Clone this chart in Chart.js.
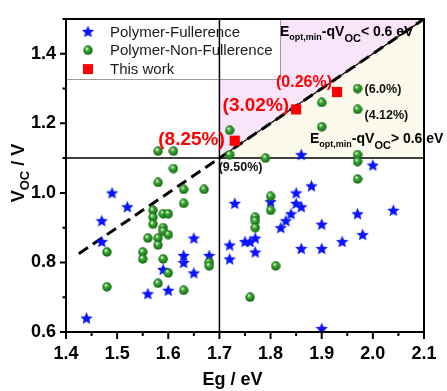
<!DOCTYPE html>
<html>
<head>
<meta charset="utf-8">
<script src="https://cdn.jsdelivr.net/npm/chart.js@4.4.1/dist/chart.umd.min.js"></script>
<style>
html, body { margin: 0; padding: 0; background: #fff; }
canvas { display: block; }
</style>
</head>
<body>
<canvas id="voc_chart" width="447" height="391"></canvas>
<script>
// values
const fullereneEg  = [1.44, 1.47, 1.47, 1.49, 1.52, 1.56, 1.59, 1.60, 1.63, 1.63, 1.65, 1.65, 1.68, 1.72, 1.72, 1.73, 1.75, 1.76, 1.77, 1.77, 1.80, 1.82, 1.83, 1.84, 1.85, 1.85, 1.86, 1.86, 1.86, 1.88, 1.90, 1.90, 1.90, 1.94, 1.97, 1.98, 2.00, 2.04]
const fullereneVoc = [0.64, 0.92, 0.86, 1.00, 0.96, 0.71, 0.78, 0.72, 0.82, 0.80, 0.87, 0.77, 0.82, 0.85, 0.81, 0.97, 0.86, 0.86, 0.87, 0.83, 0.975, 0.90, 0.92, 0.94, 1.00, 0.97, 0.96, 0.84, 1.11, 1.02, 0.91, 0.84, 0.61, 0.86, 0.94, 0.88, 1.08, 0.95]

const nonFullereneEg  = [1.48, 1.48, 1.55, 1.55, 1.56, 1.57, 1.57, 1.57, 1.58, 1.58, 1.58, 1.58, 1.58, 1.59, 1.59, 1.59, 1.59, 1.60, 1.60, 1.60, 1.61, 1.61, 1.63, 1.63, 1.63, 1.67, 1.68, 1.68, 1.72, 1.72, 1.76, 1.77, 1.77, 1.77, 1.79, 1.80, 1.80, 1.81, 1.90, 1.90, 1.97, 1.97, 1.97, 1.97, 1.97]
const nonFullereneVoc = [0.83, 0.73, 0.83, 0.81, 0.87, 0.95, 0.93, 0.91, 1.12, 1.03, 0.87, 0.85, 0.74, 0.94, 0.90, 0.89, 0.81, 0.94, 0.88, 0.77, 1.12, 1.07, 1.01, 0.97, 0.72, 1.01, 0.80, 0.79, 1.18, 1.11, 0.70, 0.93, 0.92, 0.90, 1.10, 0.99, 0.95, 0.79, 1.26, 1.19, 1.30, 1.24, 1.11, 1.09, 1.04]

const thisWorkEg  = [1.73, 1.85, 1.93]
const thisWorkVoc = [1.15, 1.24, 1.29]
const thisWorkPce = ['(8.25%)', '(3.02%)', '(0.26%)']

// PCE notes on a few literature points: [Eg, Voc, text]
const notedEg  = [1.72, 1.97, 1.97]
const notedVoc = [1.11, 1.30, 1.24]
const notedPce = ['(9.50%)', '(6.0%)', '(4.12%)']

const limitEg  = 1.7
const limitVoc = 1.1
const lossEg   = [1.425, 2.1]   // Eopt,min - qVoc = 0.6 eV
const lossVoc  = [0.825, 1.5]

const seriesNames = ['Polymer-Fullerence', 'Polymer-Non-Fullerence', 'This work']

const FONT = 'Arial, "Liberation Sans", sans-serif'

function pairs(xs, ys) { return xs.map((v, i) => ({x: v, y: ys[i]})) }

function makeStar(size, color)
{
    const c = document.createElement('canvas')
    c.width = c.height = size
    const g = c.getContext('2d')
    const r = size / 2, ri = r * 0.46
    g.beginPath()
    for (let i = 0; i < 10; i++) {
        const a = -Math.PI / 2 + i * Math.PI / 5
        const rr = i % 2 ? ri : r
        g.lineTo(r + rr * Math.cos(a), r + 0.6 + rr * Math.sin(a))
    }
    g.closePath()
    g.fillStyle = color
    g.fill()
    return c
}

function makeBall(size)
{
    const c = document.createElement('canvas')
    c.width = c.height = size
    const g = c.getContext('2d')
    const r = size / 2
    const grad = g.createRadialGradient(r * 0.75, r * 0.65, 0.5, r, r, r)
    grad.addColorStop(0, '#d8f5d0')
    grad.addColorStop(0.3, '#44aa3c')
    grad.addColorStop(0.75, '#1b7d18')
    grad.addColorStop(1, '#0e5a0c')
    g.beginPath()
    g.arc(r, r, r - 0.3, 0, Math.PI * 2)
    g.fillStyle = grad
    g.fill()
    return c
}

const starImg = makeStar(13, '#0a14ff')
const ballImg = makeBall(10)

function drawRich(ctx, x, y, parts, align)
{
    let w = 0
    parts.forEach(p => { ctx.font = p.f + ' ' + FONT; w += ctx.measureText(p.t).width })
    let cx = align === 'center' ? x - w / 2 : x
    ctx.textAlign = 'left'
    ctx.textBaseline = 'alphabetic'
    parts.forEach(p => {
        ctx.font = p.f + ' ' + FONT
        ctx.fillText(p.t, cx, y + (p.dy || 0))
        cx += ctx.measureText(p.t).width
    })
}

const decor = {
    id: 'decor',
    beforeDatasetsDraw(chart)
    {
        const {ctx, scales: {x, y}} = chart
        const poly = (eg, voc, color) => {
            ctx.beginPath()
            eg.forEach((v, i) => ctx.lineTo(x.getPixelForValue(v), y.getPixelForValue(voc[i])))
            ctx.closePath()
            ctx.fillStyle = color
            ctx.fill()
        }
        ctx.save()
        poly([limitEg, limitEg, lossEg[1]], [limitVoc, lossVoc[1], lossVoc[1]], '#f9e4f9')
        poly([limitEg, lossEg[1], lossEg[1]], [limitVoc, lossVoc[1], limitVoc], '#fbfaec')

        // legend box
        const lx = x.left, ly = y.top, lw = 214, lh = 60
        ctx.fillStyle = '#fff'
        ctx.fillRect(lx, ly, lw, lh)
        ctx.strokeStyle = '#9a9a9a'
        ctx.lineWidth = 1
        ctx.strokeRect(lx + 0.5, ly + 0.5, lw, lh)
        const marks = [starImg, ballImg, null]
        seriesNames.forEach((name, i) => {
            const my = ly + 12.5 + i * 18.8
            const mx = lx + 22
            if (marks[i]) ctx.drawImage(marks[i], mx - marks[i].width / 2, my - marks[i].height / 2)
            else { ctx.fillStyle = '#ff0000'; ctx.fillRect(mx - 5, my - 5, 10, 10) }
            ctx.fillStyle = '#1a1a1a'
            ctx.font = '15px ' + FONT
            ctx.textAlign = 'left'
            ctx.textBaseline = 'middle'
            ctx.fillText(name, lx + 44, my + 1)
        })
        ctx.restore()
    },
    afterDatasetsDraw(chart)
    {
        const {ctx, scales: {x, y}} = chart
        ctx.save()
        ctx.strokeStyle = '#000'
        ctx.lineWidth = 2
        ctx.strokeRect(x.left, y.top, x.right - x.left, y.bottom - y.top)

        // tick marks, major and minor
        ctx.beginPath()
        x.ticks.forEach(t => {
            const px = x.getPixelForValue(t.value)
            const len = Math.round(t.value * 100) % 10 === 0 ? 7 : 4
            ctx.moveTo(px, y.bottom)
            ctx.lineTo(px, y.bottom + len)
        })
        y.ticks.forEach(t => {
            const py = y.getPixelForValue(t.value)
            const len = Math.round(t.value * 10) % 2 === 0 ? 6 : 3.5
            ctx.moveTo(x.left, py)
            ctx.lineTo(x.left - len, py)
        })
        ctx.stroke()

        // PCE labels for this work
        const redStyle = [
            {dx: -10, dy: -1, size: 19},
            {dx: -7, dy: -4, size: 19},
            {dx: -5, dy: -9, size: 16}
        ]
        ctx.fillStyle = '#ff0000'
        ctx.textAlign = 'right'
        ctx.textBaseline = 'middle'
        thisWorkPce.forEach((t, i) => {
            const s = redStyle[i]
            ctx.font = 'bold ' + s.size + 'px ' + FONT
            ctx.fillText(t, x.getPixelForValue(thisWorkEg[i]) + s.dx, y.getPixelForValue(thisWorkVoc[i]) + s.dy)
        })

        const noteStyle = [
            {dx: -11, dy: 13},
            {dx: 7, dy: 1},
            {dx: 7, dy: 6}
        ]
        ctx.fillStyle = '#111'
        ctx.textAlign = 'left'
        ctx.font = 'bold 12.5px ' + FONT
        notedPce.forEach((t, i) => {
            const s = noteStyle[i]
            ctx.fillText(t, x.getPixelForValue(notedEg[i]) + s.dx, y.getPixelForValue(notedVoc[i]) + s.dy)
        })

        // region captions
        ctx.fillStyle = '#000'
        const cap = sign => [
            {t: 'E', f: 'bold 14px'},
            {t: 'opt,min', f: 'bold 9px', dy: 4},
            {t: '-qV', f: 'bold 14px'},
            {t: 'OC', f: 'bold 11px', dy: 6},
            {t: sign + ' 0.6 eV', f: 'bold 14px'}
        ]
        drawRich(ctx, 280, 36, cap('<'))
        drawRich(ctx, 310, 143, cap('>'))

        // axis titles
        drawRich(ctx, 232.5, 385, [{t: 'Eg / eV', f: 'bold 18px'}], 'center')
        ctx.translate(24, 173)
        ctx.rotate(-Math.PI / 2)
        drawRich(ctx, 0, 0, [
            {t: 'V', f: 'bold 18px'},
            {t: 'OC', f: 'bold 13px', dy: 5},
            {t: ' / V', f: 'bold 18px'}
        ], 'center')
        ctx.restore()
    }
}

function lineSet(xs, ys, width, dash)
{
    return {
        data: pairs(xs, ys),
        showLine: true,
        pointRadius: 0,
        borderColor: '#000',
        borderWidth: width,
        borderDash: dash || [],
        fill: false
    }
}

function init()
{
    const ctx = document.getElementById('voc_chart').getContext('2d')

    new Chart(ctx, {
        type: 'scatter',
        data: {
            datasets: [
                {
                    label: seriesNames[2],
                    data: pairs(thisWorkEg, thisWorkVoc),
                    pointStyle: 'rect',
                    pointRadius: 7.2,
                    backgroundColor: '#ff0000',
                    borderWidth: 0
                },
                {
                    label: seriesNames[1],
                    data: pairs(nonFullereneEg, nonFullereneVoc),
                    pointStyle: ballImg
                },
                {
                    label: seriesNames[0],
                    data: pairs(fullereneEg, fullereneVoc),
                    pointStyle: starImg
                },
                lineSet(lossEg, lossVoc, 3, [11, 6]),
                lineSet([limitEg, lossEg[1]], [limitVoc, lossVoc[1]], 1.2),
                lineSet([limitEg, limitEg], [0.6, 1.5], 1.5),
                lineSet([1.4, 2.1], [limitVoc, limitVoc], 1.5)
            ]
        },
        options: {
            responsive: false,
            animation: false,
            devicePixelRatio: 1,
            events: [],
            layout: { padding: { top: 19, right: 23, left: 0, bottom: 0 } },
            plugins: {
                legend: { display: false },
                tooltip: { enabled: false }
            },
            scales: {
                x: {
                    type: 'linear',
                    min: 1.4,
                    max: 2.1,
                    afterFit: s => { s.height = 59 },
                    grid: { display: false, drawTicks: true, tickLength: 7 },
                    border: { display: false },
                    ticks: {
                        stepSize: 0.05,
                        autoSkip: false,
                        maxRotation: 0,
                        padding: 4,
                        color: '#000',
                        font: { family: FONT, size: 18, weight: 'bold' },
                        callback: v => Math.round(v * 100) % 10 === 0 ? v.toFixed(1) : ''
                    }
                },
                y: {
                    type: 'linear',
                    min: 0.6,
                    max: 1.5,
                    afterFit: s => { s.width = 66 },
                    grid: { display: false, drawTicks: true, tickLength: 6 },
                    border: { display: false },
                    ticks: {
                        stepSize: 0.1,
                        autoSkip: false,
                        padding: 4,
                        color: '#000',
                        font: { family: FONT, size: 18, weight: 'bold' },
                        callback: v => Math.round(v * 10) % 2 === 0 ? v.toFixed(1) : ''
                    }
                }
            }
        },
        plugins: [decor]
    })
}

init()
</script>
</body>
</html>
